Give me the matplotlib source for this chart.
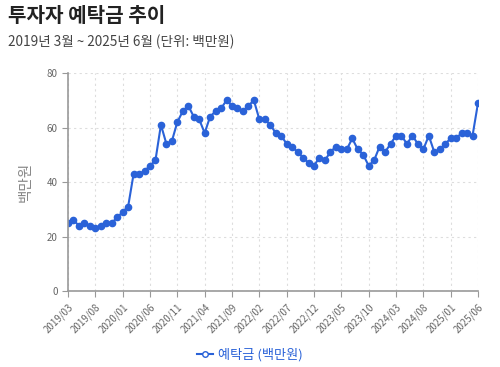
import matplotlib
matplotlib.use("Agg")
import matplotlib.pyplot as plt

plt.rcParams['font.family'] = ['Noto Sans CJK KR', 'DejaVu Sans']

# monthly deposits, 2019/03 .. 2025/06 (백만원)
months = []
for y in range(2019, 2026):
    for m in range(1, 13):
        if (y == 2019 and m < 3) or (y == 2025 and m > 6):
            continue
        months.append(f"{y}/{m:02d}")

deposits = [25, 26, 24, 25, 24, 23, 24, 25, 25, 27,
            29, 31, 43, 43, 44, 46, 48, 61, 54, 55, 62, 66,
            68, 64, 63, 58, 64, 66, 67, 70, 68, 67, 66, 68,
            70, 63, 63, 61, 58, 57, 54, 53, 51, 49, 47, 46,
            49, 48, 51, 53, 52, 52, 56, 52, 50, 46, 48, 53,
            51, 54, 57, 57, 54, 57, 54, 52, 57, 51, 52, 54,
            56, 56, 58, 58, 57, 69]

title = "투자자 예탁금 추이"
subtitle = "2019년 3월 ~ 2025년 6월 (단위: 백만원)"
series_name = "예탁금 (백만원)"

blue = '#2a62d8'
gray = '#666666'

fig = plt.figure(figsize=(5, 3.67), dpi=100)
ax = fig.add_axes([0.136, 0.207, 0.82, 0.594])

x = list(range(len(months)))
ax.plot(x, deposits, color=blue, lw=1.5, marker='o', ms=4.5,
        markerfacecolor=blue, markeredgecolor=blue, label=series_name)

ax.set_xlim(0, len(months) - 1)
ax.set_ylim(0, 80)
ax.set_yticks([0, 20, 40, 60, 80])
tick_idx = list(range(0, len(months), 5))
ax.set_xticks(tick_idx)
ax.set_xticklabels([months[i] for i in tick_idx], rotation=45, ha='right',
                   rotation_mode='anchor')

ax.grid(True, color='#dddddd', ls=(0, (2, 3)), lw=0.8)
for s in ['top', 'right']:
    ax.spines[s].set_visible(False)
for s in ['left', 'bottom']:
    ax.spines[s].set_color('#999999')
    ax.spines[s].set_linewidth(1.2)
ax.tick_params(colors='#999999', labelcolor=gray, labelsize=7, length=4)
ax.set_ylabel("백만원", color='#888888', fontsize=10.5, labelpad=10)

fig.text(0.016, 0.957, title, fontsize=14.5, fontweight='bold', color='#222222',
         va='center')
fig.text(0.016, 0.885, subtitle, fontsize=9.8, color='#444444', va='center')

leg = fig.legend(loc='center', bbox_to_anchor=(0.5, 0.033), frameon=False,
                 fontsize=9.5, handlelength=1.2, handletextpad=0.4)
for h in leg.legend_handles:
    h.set_markerfacecolor('white')
    h.set_markersize(4)
for t in leg.get_texts():
    t.set_color(blue)

fig.savefig("out.png", dpi=100)
